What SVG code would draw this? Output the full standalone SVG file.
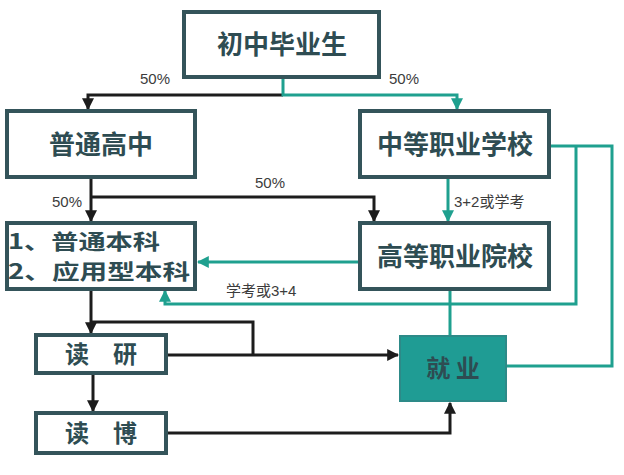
<svg xmlns="http://www.w3.org/2000/svg" width="624" height="475" viewBox="0 0 624 475">
<defs>
<style>
.b{fill:#fff;stroke:#34545a;stroke-width:4}
.t{font-family:"Noto Sans CJK SC","Liberation Sans",sans-serif;font-weight:bold;fill:#2e4c52;text-anchor:middle}
.s{text-anchor:start}
.l{font-family:"Liberation Sans","Noto Sans CJK SC",sans-serif;font-size:15px;fill:#3c3c3c}
.k{fill:none;stroke:#1c1c1c;stroke-width:3}
.g{fill:none;stroke:#1fa08f;stroke-width:3}
</style>
<marker id="ak" viewBox="0 0 10 10" refX="9" refY="5" markerWidth="4" markerHeight="4" orient="auto"><path d="M0,0L10,5L0,10z" fill="#1c1c1c"/></marker>
<marker id="ag" viewBox="0 0 10 10" refX="9" refY="5" markerWidth="4" markerHeight="4" orient="auto"><path d="M0,0L10,5L0,10z" fill="#1fa08f"/></marker>
</defs>
<rect width="624" height="475" fill="#fff"/>
<g id="connectors">
<path class="k" d="M283,95H88V109" marker-end="url(#ak)"/>
<path class="g" d="M283,78V95H457V109" marker-end="url(#ag)"/>
<path class="k" d="M91,177V221" marker-end="url(#ak)"/>
<path class="k" d="M91,197H374V221" marker-end="url(#ak)"/>
<path class="g" d="M448,177V221" marker-end="url(#ag)"/>
<path class="g" d="M360,262H198" marker-end="url(#ag)"/>
<path class="g" d="M549,146H612V366H506"/>
<path class="g" d="M576,146V304H165V291" marker-end="url(#ag)"/>
<path class="g" d="M450,290V336"/>
<path class="k" d="M91,290V333" marker-end="url(#ak)"/>
<path class="k" d="M91,322H253V355"/>
<path class="k" d="M166,355H398" marker-end="url(#ak)"/>
<path class="k" d="M93,373V411" marker-end="url(#ak)"/>
<path class="k" d="M166,433H450V403" marker-end="url(#ak)"/>
</g>
<g id="labels">
<text class="l" x="140" y="84">50%</text>
<text class="l" x="389" y="84">50%</text>
<text class="l" x="52" y="207">50%</text>
<text class="l" x="255" y="188">50%</text>
<text class="l" x="454" y="207">3+2或学考</text>
<text class="l" x="226" y="296">学考或3+4</text>
</g>
<g id="n1"><rect class="b" x="184" y="12" width="195" height="65"/><text class="t" x="282" y="54" font-size="26">初中毕业生</text></g>
<g id="n2"><rect class="b" x="7" y="111" width="188" height="66"/><text class="t" x="101" y="154" font-size="26">普通高中</text></g>
<g id="n3"><rect class="b" x="360" y="111" width="189" height="66"/><text class="t" x="455" y="154" font-size="26">中等职业学校</text></g>
<g id="n4"><rect class="b" x="7" y="223" width="188" height="66"/><text class="t s" x="8" y="249" font-size="21" textLength="152" lengthAdjust="spacingAndGlyphs">1、普通本科</text><text class="t s" x="8" y="279" font-size="21" textLength="182" lengthAdjust="spacingAndGlyphs">2、应用型本科</text></g>
<g id="n5"><rect class="b" x="360" y="223" width="189" height="66"/><text class="t" x="455" y="266" font-size="26">高等职业院校</text></g>
<g id="n6"><rect class="b" x="36" y="335" width="130" height="38" stroke-width="3"/><text class="t" x="101" y="363" font-size="24">读　研</text></g>
<g id="n7"><rect class="b" x="36" y="413" width="130" height="40" stroke-width="3"/><text class="t" x="101" y="442" font-size="24">读　博</text></g>
<g id="n8"><rect x="400" y="336" width="106" height="65" fill="#1f9c94" stroke="#2d8a88" stroke-width="2"/><text class="t" x="453" y="377" font-size="24" fill="#2d5458">就 业</text></g>
</svg>
